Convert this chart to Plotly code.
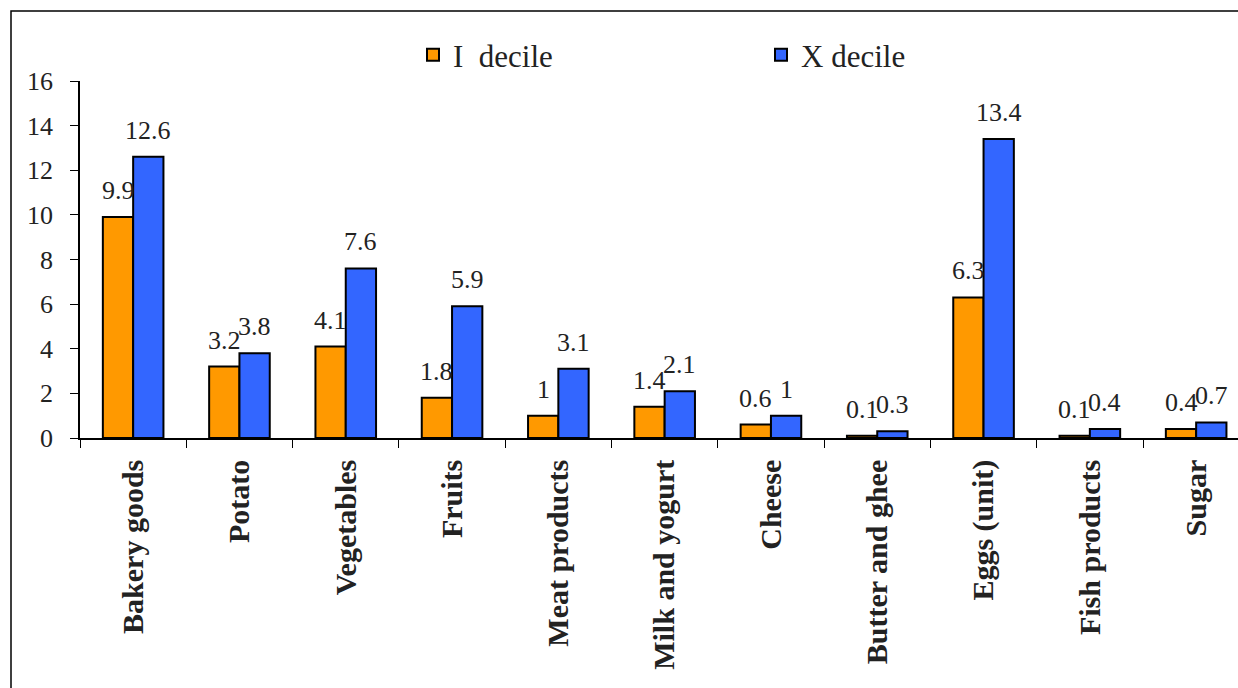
import plotly.graph_objects as go

categories = ["Bakery goods", "Potato", "Vegetables", "Fruits", "Meat products",
              "Milk and yogurt", "Cheese", "Butter and ghee", "Eggs (unit)",
              "Fish products", "Sugar"]
decile_I = [9.9, 3.2, 4.1, 1.8, 1, 1.4, 0.6, 0.1, 6.3, 0.1, 0.4]
decile_X = [12.6, 3.8, 7.6, 5.9, 3.1, 2.1, 1, 0.3, 13.4, 0.4, 0.7]
y_ticks = [0, 2, 4, 6, 8, 10, 12, 14, 16]

SERIF = "Liberation Serif"
TXT = "#222"

fig = go.Figure()
fig.add_trace(go.Bar(
    x=categories, y=decile_I, name="I  decile",
    marker=dict(color="#FF9900", line=dict(color="black", width=2)),
))
fig.add_trace(go.Bar(
    x=categories, y=decile_X, name="X decile",
    marker=dict(color="#3366FF", line=dict(color="black", width=2)),
))

W, H = 1238, 688
L, T, B = 80, 81, 250
pw = W - L
ph = H - T - B
cat_px = 106.3
bar_half = cat_px * (1 - 0.43) / 4

annotations = []
for c, a, b in zip(categories, decile_I, decile_X):
    for v, sh in ((a, -bar_half), (b, bar_half)):
        annotations.append(dict(
            x=c, y=v, xref="x", yref="y", text=str(v), showarrow=False,
            xanchor="center", yanchor="bottom", xshift=sh, yshift=10,
            font=dict(family=SERIF, size=26, color=TXT)))

fig.update_layout(
    width=W, height=H,
    margin=dict(l=L, r=0, t=T, b=B, pad=0),
    paper_bgcolor="white", plot_bgcolor="white",
    barmode="group", bargap=0.43, bargroupgap=0,
    font=dict(family=SERIF, color=TXT),
    legend=dict(orientation="h", x=(413 - L) / pw, xanchor="left",
                y=(H - B - 55) / ph, yanchor="middle",
                font=dict(family=SERIF, size=31, color=TXT),
                entrywidth=303, entrywidthmode="pixels",
                bgcolor="rgba(0,0,0,0)"),
    xaxis=dict(range=[-0.5, -0.5 + pw / cat_px], showline=True, linecolor="black",
               linewidth=1.5, ticks="outside", ticklen=8, tickcolor="black",
               tickson="boundaries", tickangle=-90, showgrid=False,
               ticklabelstandoff=8,
               tickfont=dict(family=SERIF, size=30, color=TXT, weight="bold")),
    yaxis=dict(range=[0, 16], tickvals=y_ticks, showline=True, linecolor="black",
               linewidth=1.5, ticks="outside", ticklen=8, tickcolor="black",
               showgrid=False, zeroline=False, ticklabelstandoff=12,
               tickfont=dict(family=SERIF, size=26, color=TXT)),
    annotations=annotations,
    shapes=[dict(type="rect", xref="paper", yref="paper",
                 x0=(11 - L) / pw, x1=1.05, y0=-1.0, y1=(H - B - 11) / ph,
                 line=dict(color="black", width=1.5), fillcolor="rgba(0,0,0,0)",
                 layer="below")],
)

fig.write_html("out.html")
